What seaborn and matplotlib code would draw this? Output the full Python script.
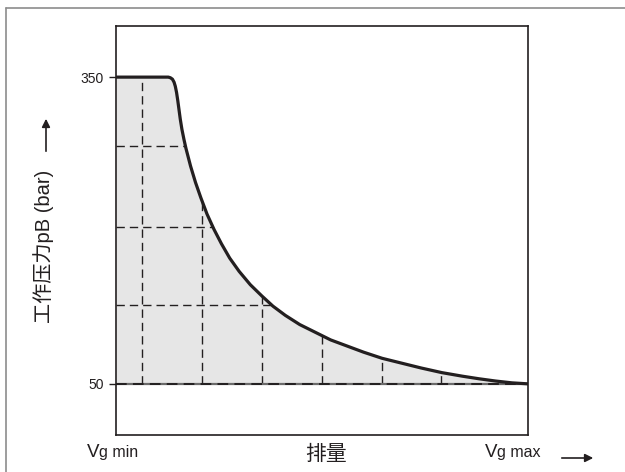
import numpy as np
import matplotlib
matplotlib.use("Agg")
import matplotlib.pyplot as plt
from matplotlib.lines import Line2D
import seaborn as sns

# displacement in % of Vg (Vg min = 0, Vg max = 100), pressure in bar
disp = [0, 12.0, 12.6, 13.1, 13.6, 14.0, 14.3, 14.6, 14.9, 15.2, 15.5, 15.9,
        16.4, 16.9, 18.0, 19.2, 20.5, 22.0, 23.7, 25.5, 27.5, 29.8, 32.5, 35.3,
        38.0, 41.0, 44.5, 48.0, 52.0, 56.0, 60.0, 64.5, 69.0, 74.0, 79.0,
        84.0, 88.0, 92.0, 96.0, 100.0]
pressure = [350, 350, 350, 349.4, 348, 345, 341, 335, 327, 318, 309, 299,
            289, 280, 263, 247, 232, 216, 201, 187, 173, 160, 147, 136,
            126, 117, 108, 101, 93, 87, 81, 75, 70.5, 65.5, 61,
            57.5, 55, 52.8, 51, 50]

p_min = 50
p_max = 350
grid_disp = [6.3, 20.8, 35.4, 49.9, 64.4, 78.9]
grid_press = [283, 203, 127]
ytick_vals = [50, 350]

sns.set_style("white")
plt.rcParams['font.family'] = ['Liberation Sans', 'Noto Sans CJK SC', 'DejaVu Sans']

fig = plt.figure(figsize=(6.25, 4.72), dpi=100)
ax = fig.add_axes([116.4 / 625, 1 - 435 / 472, 412 / 625, 409 / 472])

ink = '#231f20'

# shaded working area
ax.fill_between(disp, pressure, p_min, color='#e6e6e6', lw=0, zorder=1)

# dashed helper grid inside the working area
x_arr = np.array(disp)
p_arr = np.array(pressure)
dash = dict(color=ink, lw=1.0, dashes=(6, 3.6), zorder=2)
for xv in grid_disp:
    top = np.interp(xv, x_arr, p_arr)
    ax.plot([xv, xv], [p_min, top], **dash)
fall = p_arr < p_max
for pv in grid_press:
    right = np.interp(pv, p_arr[fall][::-1], x_arr[fall][::-1])
    ax.plot([0, right], [pv, pv], **dash)

# baseline at 50 bar
ax.axhline(p_min, color='#6b6b6b', lw=1.6, zorder=2)
ax.axhline(p_min, color=ink, lw=1.4, dashes=(5.5, 3.2), zorder=3)

# characteristic curve
sns.lineplot(x=disp, y=pressure, ax=ax, color=ink, lw=2.3, zorder=4,
             sort=False, estimator=None, solid_joinstyle='round',
             solid_capstyle='round')

ax.set_xlim(0, 100)
ax.set_ylim(0, 400)
ax.set_xticks([])
ax.set_yticks(ytick_vals)
ax.set_yticklabels([str(v) for v in ytick_vals], fontsize=10)
ax.tick_params(axis='y', length=5, width=1.0, color=ink, pad=4, left=True,
               labelcolor=ink)
for s in ax.spines.values():
    s.set_color(ink)
    s.set_linewidth(1.2)
ax.set_xlabel('')
ax.set_ylabel('')

# outer frame
fc = '#8c8c8c'
fig.add_artist(Line2D([5.5 / 625, 1], [1 - 7.5 / 472] * 2, transform=fig.transFigure,
                      color=fc, lw=1.2))
fig.add_artist(Line2D([5.5 / 625] * 2, [0, 1 - 7.5 / 472], transform=fig.transFigure,
                      color=fc, lw=1.2))

# x labels
base = 1 - 457 / 472
fig.text(87 / 625, base, 'V', fontsize=13.5, va='baseline', color=ink)
fig.text(99 / 625, base, 'g min', fontsize=11.5, va='baseline', color=ink)
fig.text(485 / 625, base, 'V', fontsize=13.5, va='baseline', color=ink)
fig.text(497 / 625, base, 'g max', fontsize=11.5, va='baseline', color=ink)
fig.text(326 / 625, 1 - 454 / 472, '排量', fontsize=15, ha='center', va='center',
         color=ink)
ax.annotate('', xy=(596, 472 - 458), xytext=(559, 472 - 458),
            xycoords='figure pixels', textcoords='figure pixels',
            arrowprops=dict(arrowstyle='-|>', color=ink, lw=1.2, mutation_scale=12))

# y label
fig.text(44 / 625, 1 - 246 / 472, '工作压力pB (bar)', fontsize=14.5, rotation=90,
         ha='center', va='center', color=ink)
ax.annotate('', xy=(46, 472 - 116), xytext=(46, 472 - 154),
            xycoords='figure pixels', textcoords='figure pixels',
            arrowprops=dict(arrowstyle='-|>', color=ink, lw=1.2, mutation_scale=12))

fig.savefig('out.png', dpi=100)
